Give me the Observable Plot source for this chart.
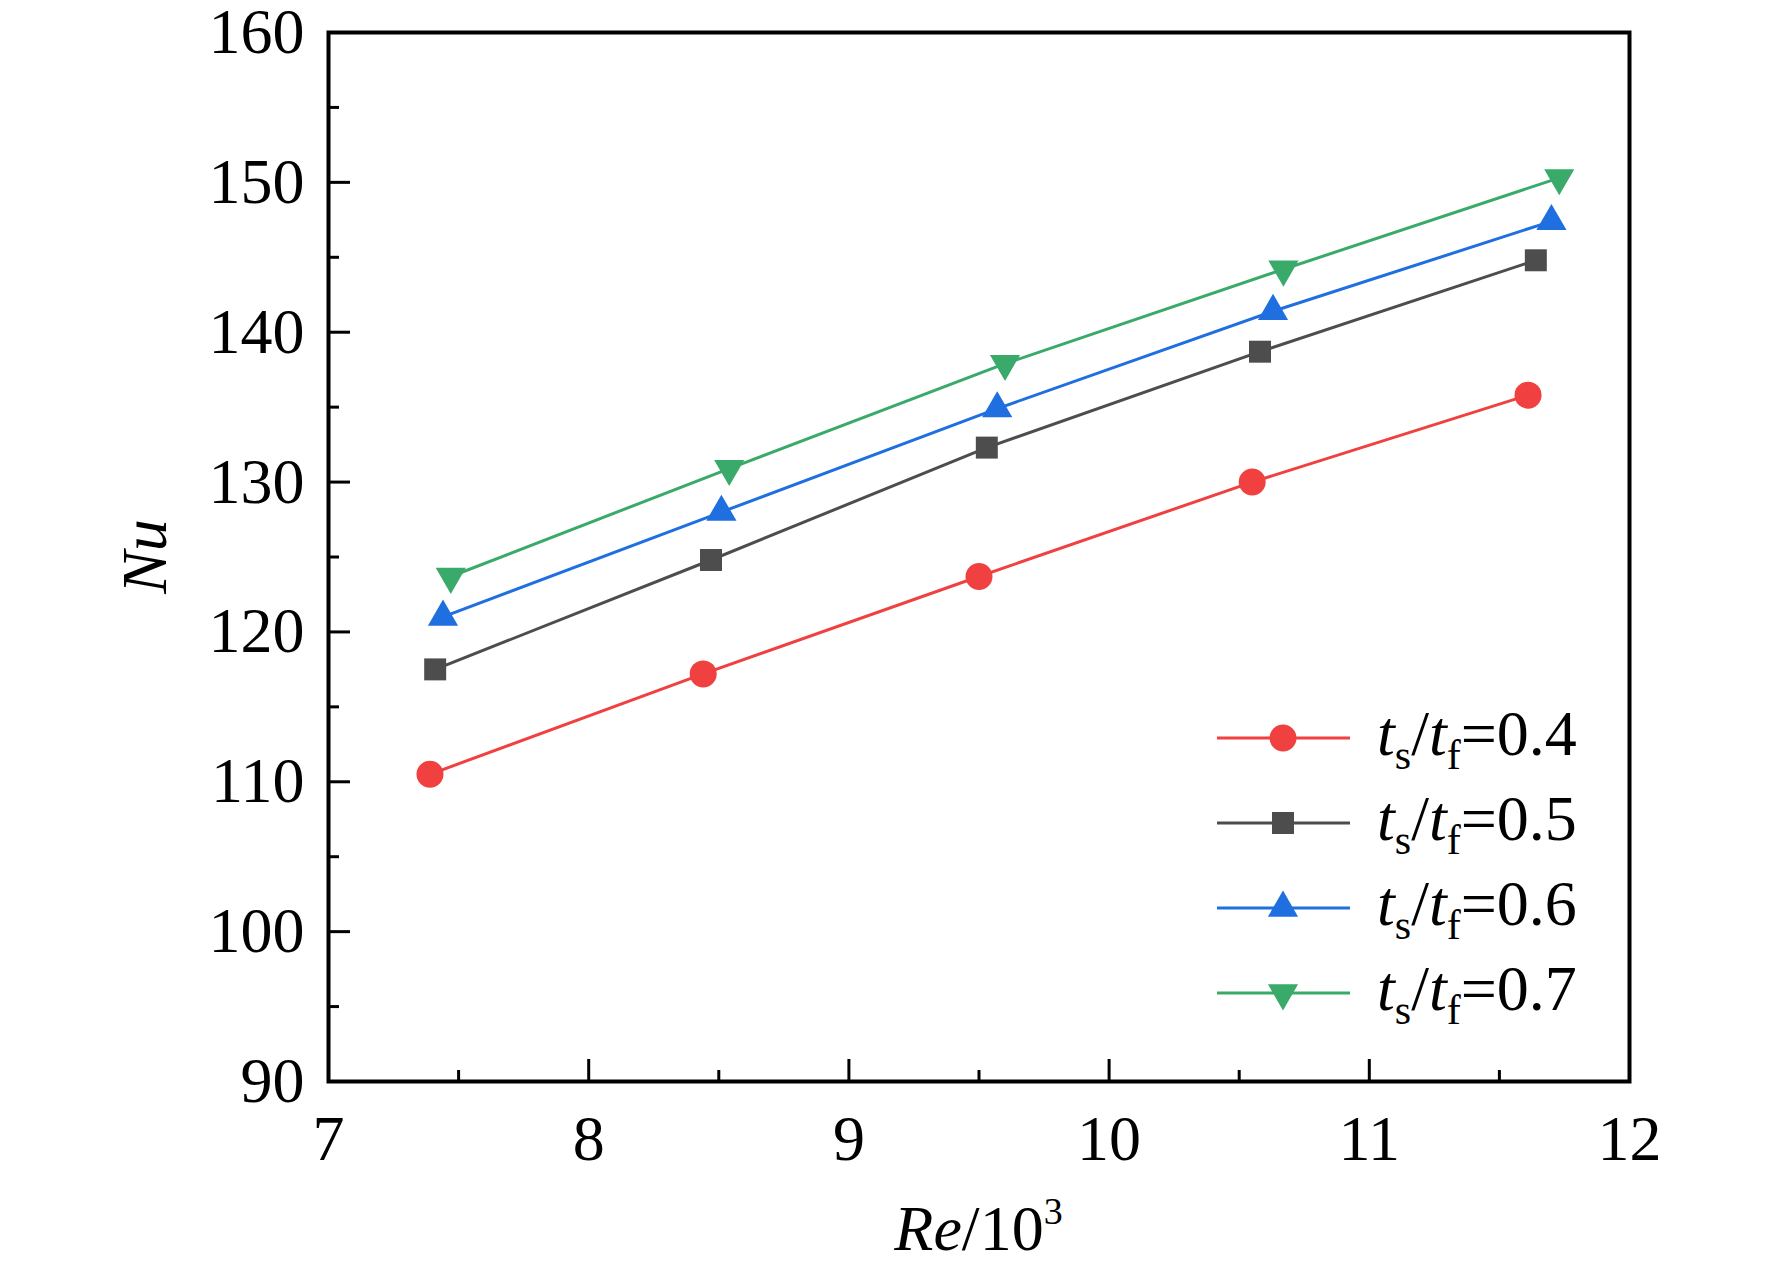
<!DOCTYPE html>
<html>
<head>
<meta charset="utf-8">
<script src="https://cdn.jsdelivr.net/npm/d3@7"></script>
<script src="https://cdn.jsdelivr.net/npm/@observablehq/plot@0.6"></script>
<style>
  html, body { margin: 0; padding: 0; background: #fff; }
  #chart svg { display: block; }
</style>
</head>
<body>
<div id="chart"></div>
<script>
// ---- data ----
const seriesNames = ["0.4", "0.5", "0.6", "0.7"];
const re04 = [7.39, 8.44, 9.50, 10.55, 11.61];
const nu04 = [110.5, 117.2, 123.7, 130.0, 135.8];
const re05 = [7.41, 8.47, 9.53, 10.58, 11.64];
const nu05 = [117.5, 124.8, 132.3, 138.7, 144.8];
const re06 = [7.44, 8.51, 9.57, 10.63, 11.70];
const nu06 = [121.0, 128.0, 134.9, 141.4, 147.4];
const re07 = [7.47, 8.54, 9.60, 10.67, 11.73];
const nu07 = [123.7, 130.9, 137.9, 144.2, 150.3];
const xTicks = [7, 8, 9, 10, 11, 12];
const xMinorTicks = [7.5, 8.5, 9.5, 10.5, 11.5];
const yTicks = [90, 100, 110, 120, 130, 140, 150, 160];
const yMinorTicks = [95, 105, 115, 125, 135, 145, 155];

// ---- styles ----
const colors = ["#f04040", "#4d4d4d", "#1f6fe0", "#3aaa6a"];
const triangleDown = {
  draw(context, size) {
    const s = Math.sqrt(size / (Math.sqrt(3) / 4));
    const h = s * Math.sqrt(3) / 2;
    context.moveTo(0, h * 2 / 3);
    context.lineTo(s / 2, -h / 3);
    context.lineTo(-s / 2, -h / 3);
    context.closePath();
  }
};
const symbols = ["circle", "square", "triangle", triangleDown];
const radii = [13.5, 12.4, 11.2, 11.2];

const xs = [re04, re05, re06, re07];
const ys = [nu04, nu05, nu06, nu07];
const series = seriesNames.map((name, i) =>
  xs[i].map((x, j) => ({ name, re: x, nu: ys[i][j] })));

const W = 1772, H = 1270;
const mL = 328, mR = 143, mT = 32, mB = 189;
const plotW = W - mL - mR, plotH = H - mT - mB;
const font = "'Liberation Serif', 'Times New Roman', serif";
const fs = 64;

const marks = [];
series.forEach((d, i) => {
  marks.push(Plot.line(d, { x: "re", y: "nu", stroke: colors[i], strokeWidth: 3 }));
});
series.forEach((d, i) => {
  marks.push(Plot.dot(d, { x: "re", y: "nu", fill: colors[i], stroke: "none", symbol: () => symbols[i], r: radii[i] }));
});
// inward ticks
marks.push(Plot.ruleX(xTicks, { x: d => d, stroke: "#000", strokeWidth: 3, insetTop: plotH - 22 }));
marks.push(Plot.ruleX(xMinorTicks, { x: d => d, stroke: "#000", strokeWidth: 3, insetTop: plotH - 11 }));
marks.push(Plot.ruleY(yTicks, { y: d => d, stroke: "#000", strokeWidth: 3, insetRight: plotW - 22 }));
marks.push(Plot.ruleY(yMinorTicks, { y: d => d, stroke: "#000", strokeWidth: 3, insetRight: plotW - 11 }));
marks.push(Plot.axisX({ ticks: xTicks, tickSize: 0, tickPadding: 33, fontSize: fs, label: null, tickFormat: d => String(d) }));
marks.push(Plot.axisY({ ticks: yTicks, tickSize: 0, tickPadding: 24, fontSize: fs, label: null, tickFormat: d => String(d) }));
marks.push(Plot.frame({ stroke: "#000", strokeWidth: 4 }));

const chart = Plot.plot({
  width: W, height: H,
  marginLeft: mL, marginRight: mR, marginTop: mT, marginBottom: mB,
  x: { domain: [7, 12] },
  y: { domain: [90, 160] },
  style: { fontFamily: font, fontSize: fs + "px", background: "#fff", color: "#000", overflow: "visible" },
  marks
});
document.getElementById("chart").appendChild(chart);

const svg = d3.select(chart);
// axis titles
const xt = svg.append("text")
  .attr("x", mL + plotW / 2).attr("y", 1250)
  .attr("text-anchor", "middle")
  .attr("font-family", font).attr("font-size", fs).attr("fill", "#000");
xt.append("tspan").attr("font-style", "italic").text("Re");
xt.append("tspan").text("/10");
xt.append("tspan").attr("font-size", 38).attr("dy", -26).text("3");

svg.append("text")
  .attr("transform", `translate(166,${mT + plotH / 2}) rotate(-90)`)
  .attr("text-anchor", "middle")
  .attr("font-family", font).attr("font-size", fs).attr("font-style", "italic")
  .attr("fill", "#000")
  .text("Nu");

// legend
const legendY = [738, 823, 908, 993];
const lg = svg.append("g").attr("text-anchor", "start");
seriesNames.forEach((name, i) => {
  const y = legendY[i];
  lg.append("line").attr("x1", 1217).attr("x2", 1350).attr("y1", y).attr("y2", y)
    .attr("stroke", colors[i]).attr("stroke-width", 3);
  const sym = typeof symbols[i] === "string"
    ? { circle: d3.symbolCircle, square: d3.symbolSquare, triangle: d3.symbolTriangle }[symbols[i]]
    : symbols[i];
  lg.append("path")
    .attr("d", d3.symbol(sym, Math.PI * radii[i] * radii[i])())
    .attr("transform", `translate(1283,${y})`)
    .attr("fill", colors[i]);
  const t = lg.append("text").attr("x", 1377).attr("y", y + 17)
    .attr("text-anchor", "start")
    .attr("font-family", font).attr("font-size", fs).attr("fill", "#000");
  t.append("tspan").attr("font-style", "italic").text("t");
  t.append("tspan").attr("font-size", 42).attr("dy", 14).text("s");
  t.append("tspan").attr("dy", -14).text("/");
  t.append("tspan").attr("font-style", "italic").text("t");
  t.append("tspan").attr("font-size", 42).attr("dy", 14).text("f");
  t.append("tspan").attr("dy", -14).text("=" + name);
});
</script>
</body>
</html>
